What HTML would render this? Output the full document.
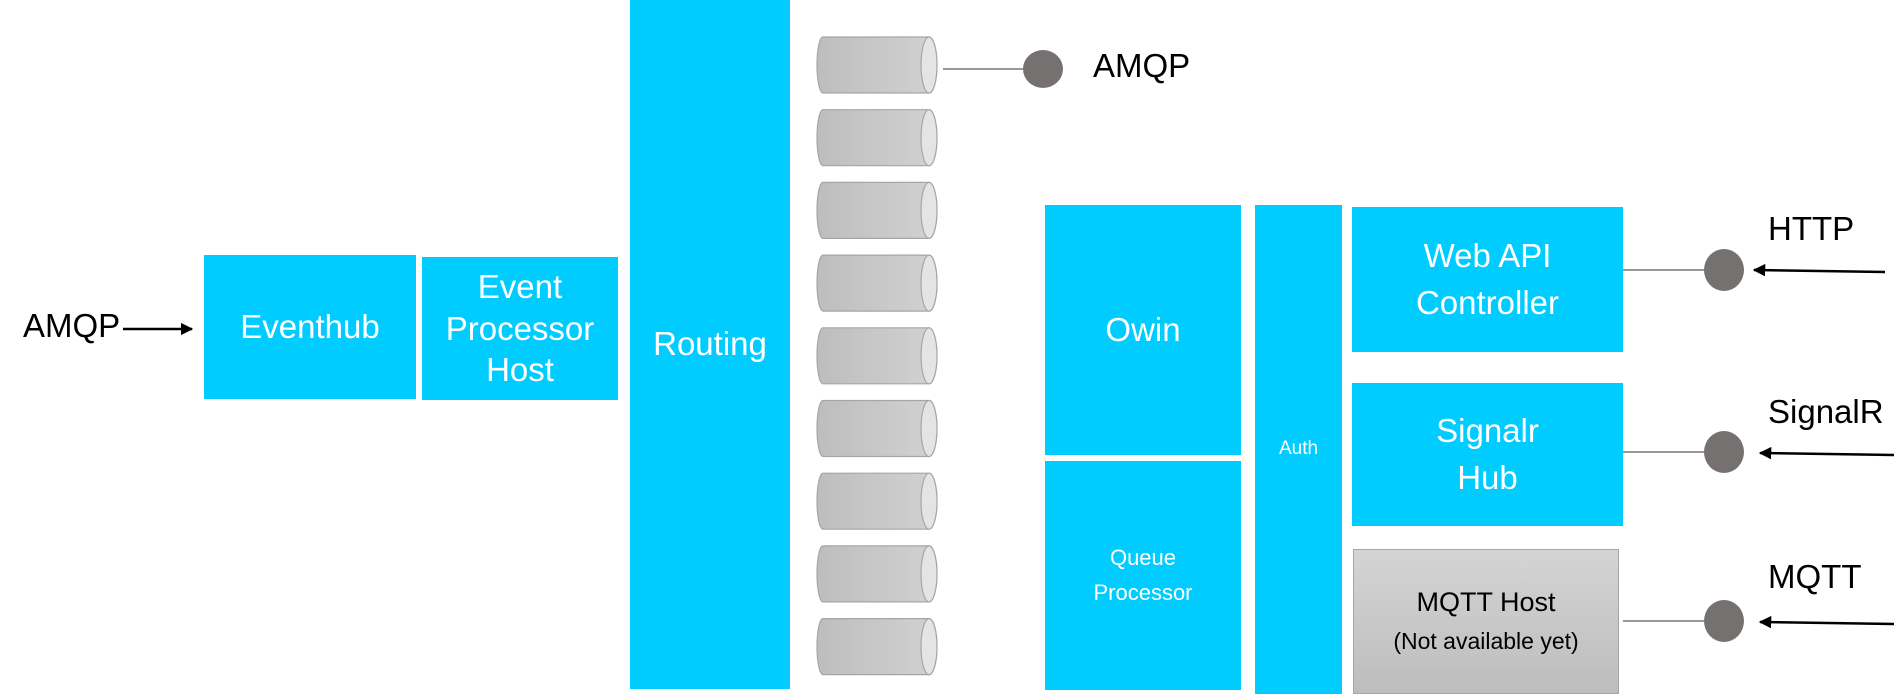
<!DOCTYPE html>
<html><head><meta charset="utf-8"><style>
body{margin:0;width:1901px;height:694px;background:#fff;position:relative;overflow:hidden;font-family:"Liberation Sans",sans-serif}
.b{position:absolute;background:#00CCFF;color:#fff;display:flex;align-items:center;justify-content:center;text-align:center;line-height:1.4}
.t{position:absolute;color:#000;font-size:33px}
svg{position:absolute;left:0;top:0}
</style></head><body>
<svg width="1901" height="694">
<defs><linearGradient id="g" x1="0" x2="1"><stop offset="0" stop-color="#bdbdbd"/><stop offset="1" stop-color="#d2d2d2"/></linearGradient>
<marker id="ar" markerWidth="5" markerHeight="5" refX="4.5" refY="2.5" orient="auto"><path d="M0,0 L5,2.5 L0,5 z" fill="#000"/></marker></defs>
<g id="cyl"></g>
<line x1="943" y1="69" x2="1023" y2="69" stroke="#777" stroke-width="1.5"/>
<ellipse cx="1043" cy="69" rx="20" ry="19" fill="#767171"/>
<line x1="123" y1="329" x2="192" y2="329" stroke="#000" stroke-width="2.5" marker-end="url(#ar)"/>
<line x1="1623" y1="270" x2="1704" y2="270" stroke="#777" stroke-width="1.5"/>
<ellipse cx="1724" cy="270" rx="20" ry="21" fill="#767171"/>
<line x1="1885" y1="272" x2="1754" y2="270" stroke="#000" stroke-width="2.5" marker-end="url(#ar)"/>
<line x1="1623" y1="452" x2="1704" y2="452" stroke="#777" stroke-width="1.5"/>
<ellipse cx="1724" cy="452" rx="20" ry="21" fill="#767171"/>
<line x1="1894" y1="455" x2="1760" y2="453" stroke="#000" stroke-width="2.5" marker-end="url(#ar)"/>
<line x1="1623" y1="621" x2="1704" y2="621" stroke="#777" stroke-width="1.5"/>
<ellipse cx="1724" cy="621" rx="20" ry="21" fill="#767171"/>
<line x1="1894" y1="624" x2="1760" y2="622" stroke="#000" stroke-width="2.5" marker-end="url(#ar)"/>
</svg>
<div class="t" style="left:23px;top:307px">AMQP</div>
<div class="b" style="left:204px;top:255px;width:212px;height:144px;font-size:33px">Eventhub</div>
<div class="b" style="left:422px;top:257px;width:196px;height:143px;font-size:33px;line-height:1.27">Event<br>Processor<br>Host</div>
<div class="b" style="left:630px;top:0;width:160px;height:689px;font-size:33px">Routing</div>
<div class="t" style="left:1093px;top:47px">AMQP</div>
<div class="b" style="left:1045px;top:205px;width:196px;height:250px;font-size:33px">Owin</div>
<div class="b" style="left:1045px;top:461px;width:196px;height:229px;font-size:22px;line-height:1.55">Queue<br>Processor</div>
<div class="b" style="left:1255px;top:205px;width:87px;height:489px;font-size:19px">Auth</div>
<div class="b" style="left:1352px;top:207px;width:271px;height:145px;font-size:33px">Web API<br>Controller</div>
<div class="b" style="left:1352px;top:383px;width:271px;height:143px;font-size:33px">Signalr<br>Hub</div>
<div class="b" style="left:1353px;top:549px;width:266px;height:145px;background:linear-gradient(#d4d4d4,#bdbdbd);border:1px solid #a6a6a6;box-sizing:border-box;color:#000;font-size:27px;line-height:1.4"><div>MQTT Host<br><span style="font-size:23px">(Not available yet)</span></div></div>
<div class="t" style="left:1768px;top:210px">HTTP</div>
<div class="t" style="left:1768px;top:393px">SignalR</div>
<div class="t" style="left:1768px;top:558px">MQTT</div>
<script>
const queueIndices=[0,1,2,3,4,5,6,7,8];
const g=document.getElementById('cyl');
queueIndices.forEach(i=>{
  const y=37+i*72.7, h=56, x=817, w=120;
  const grp=document.createElementNS('http://www.w3.org/2000/svg','g');
  
  
  grp.innerHTML=`<path d="M${x+6},${y} L${x+w-8},${y} A8 ${h/2} 0 0 1 ${x+w-8},${y+h} L${x+6},${y+h} A6 ${h/2} 0 0 1 ${x+6},${y} z" fill="url(#g)" stroke="#a6a6a6" stroke-width="1.2"/><ellipse cx="${x+w-8}" cy="${y+h/2}" rx="8" ry="${h/2}" fill="#e4e4e4" stroke="#a6a6a6" stroke-width="1.2"/>`;
  g.appendChild(grp);
});
</script>
</body></html>
